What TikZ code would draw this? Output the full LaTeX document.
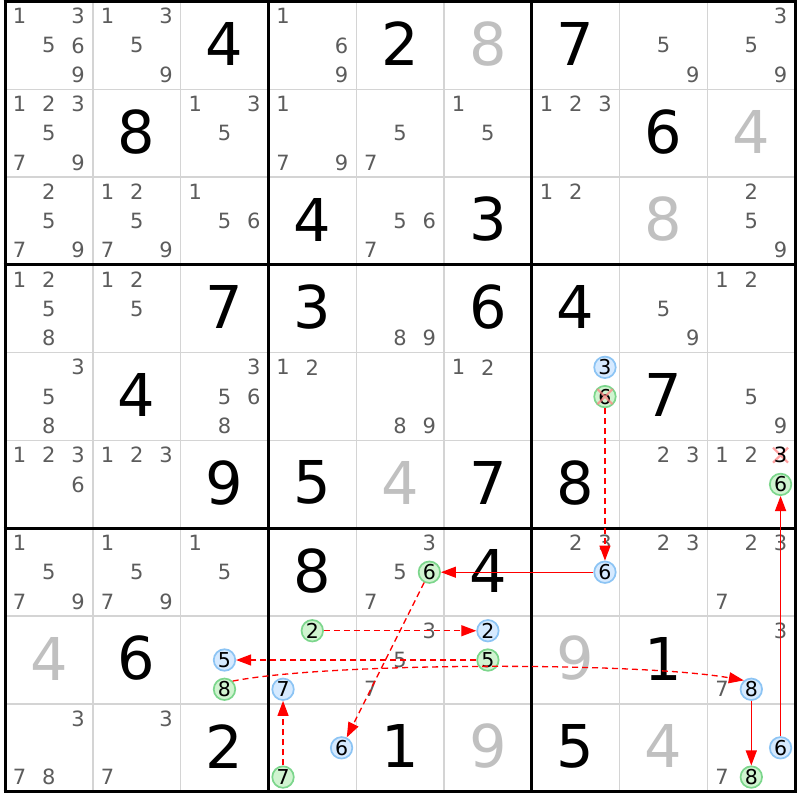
\documentclass[tikz,border=0pt]{standalone}
\usepackage{fontspec}
\setmainfont{DejaVu Sans}
\usetikzlibrary{arrows.meta}
\definecolor{candc}{RGB}{92,92,92}
\definecolor{lgray}{RGB}{192,192,192}
\definecolor{thinc}{RGB}{212,212,212}
\definecolor{bluefill}{RGB}{214,234,255}
\definecolor{bluebd}{RGB}{140,196,244}
\definecolor{greenfill}{RGB}{208,244,208}
\definecolor{greenbd}{RGB}{124,214,140}
\definecolor{xcol}{RGB}{255,130,130}
\newcommand\sdCands[3]{\foreach \d in {#3}{\node[cand] at ({5+(#2-1)*87.8+(mod(\d-1,3)+0.5)*29.2667},{1.5+(#1-1)*87.8+(floor((\d-1)/3)+0.5)*29.2667}) {\d};}}
\newcommand\sdCandK[3]{\node[cand,text=black] at ({5+(#2-1)*87.8+(mod(#3-1,3)+0.5)*29.2667},{1.5+(#1-1)*87.8+(floor((#3-1)/3)+0.5)*29.2667}) {#3};}
\newcommand\sdCirc[5]{\node[#1] (#2) at ({5+(#4-1)*87.8+(mod(#5-1,3)+0.5)*29.2667},{1.5+(#3-1)*87.8+(floor((#5-1)/3)+0.5)*29.2667}) {#5};}
\newcommand\sdX[3]{\draw[xm] ({5+(#2-1)*87.8+(mod(#3-1,3)+0.5)*29.2667},{1.5+(#1-1)*87.8+(floor((#3-1)/3)+0.5)*29.2667}) +(-7.5,-7.5) -- +(7.5,7.5) +(-7.5,7.5) -- +(7.5,-7.5);}
\newcommand\sdBig[4][black]{\node[bigd,text=#1] at ({5+(#3-0.5)*87.8},{1.5+(#2-0.5)*87.8-1.5}) {#4};}
\begin{document}
\begin{tikzpicture}[x=1pt,y=-1pt,
  cand/.style={inner sep=0pt,text=candc,font=\fontsize{21}{21}\selectfont},
  bigd/.style={inner sep=0pt,font=\fontsize{59}{60}\selectfont},
  bc/.style={circle,draw=bluebd,fill=bluefill,line width=1.7pt,minimum size=21.5pt,inner sep=0pt,text=black,font=\fontsize{20.5}{21}\selectfont},
  gc/.style={circle,draw=greenbd,fill=greenfill,line width=1.7pt,minimum size=21.5pt,inner sep=0pt,text=black,font=\fontsize{20.5}{21}\selectfont},
  xm/.style={draw=xcol,line width=2.2pt,opacity=0.75},
  arr/.style={draw=red,line width=1.3pt,-{Triangle[length=15pt,width=11pt]}},
  dsh/.style={dash pattern=on 6pt off 4pt}]
\useasboundingbox (0,0) rectangle (800,800);
\fill[white] (0,0) rectangle (800,800);
% thin grid lines
\foreach \i in {1,2,4,5,7,8}{
  \draw[thinc,line width=1.4pt] ({5+\i*87.8},1.5) -- ({5+\i*87.8},791.7);
  \draw[thinc,line width=1.4pt] (5,{1.5+\i*87.8}) -- (795.2,{1.5+\i*87.8});
}
\foreach \i in {0,3,6,9}{
  \draw[black,line width=3pt] ({5+\i*87.8},0) -- ({5+\i*87.8},793.2);
  \draw[black,line width=3pt] (3.5,{1.5+\i*87.8}) -- (796.7,{1.5+\i*87.8});
}
% row 1
\sdCands{1}{1}{1,3,5,6,9}
\sdCands{1}{2}{1,3,5,9}
\sdBig{1}{3}{4}
\sdCands{1}{4}{1,6,9}
\sdBig{1}{5}{2}
\sdBig[lgray]{1}{6}{8}
\sdBig{1}{7}{7}
\sdCands{1}{8}{5,9}
\sdCands{1}{9}{3,5,9}
% row 2
\sdCands{2}{1}{1,2,3,5,7,9}
\sdBig{2}{2}{8}
\sdCands{2}{3}{1,3,5}
\sdCands{2}{4}{1,7,9}
\sdCands{2}{5}{5,7}
\sdCands{2}{6}{1,5}
\sdCands{2}{7}{1,2,3}
\sdBig{2}{8}{6}
\sdBig[lgray]{2}{9}{4}
% row 3
\sdCands{3}{1}{2,5,7,9}
\sdCands{3}{2}{1,2,5,7,9}
\sdCands{3}{3}{1,5,6}
\sdBig{3}{4}{4}
\sdCands{3}{5}{5,6,7}
\sdBig{3}{6}{3}
\sdCands{3}{7}{1,2}
\sdBig[lgray]{3}{8}{8}
\sdCands{3}{9}{2,5,9}
% row 4
\sdCands{4}{1}{1,2,5,8}
\sdCands{4}{2}{1,2,5}
\sdBig{4}{3}{7}
\sdBig{4}{4}{3}
\sdCands{4}{5}{8,9}
\sdBig{4}{6}{6}
\sdBig{4}{7}{4}
\sdCands{4}{8}{5,9}
\sdCands{4}{9}{1,2}
% row 5
\sdCands{5}{1}{3,5,8}
\sdBig{5}{2}{4}
\sdCands{5}{3}{3,5,6,8}
\sdCands{5}{4}{1,2}
\sdCands{5}{5}{8,9}
\sdCands{5}{6}{1,2}
\sdCirc{bc}{b3a}{5}{7}{3}
\sdCirc{gc}{g6a}{5}{7}{6}
\sdX{5}{7}{6}
\sdBig{5}{8}{7}
\sdCands{5}{9}{5,9}
% row 6
\sdCands{6}{1}{1,2,3,6}
\sdCands{6}{2}{1,2,3}
\sdBig{6}{3}{9}
\sdBig{6}{4}{5}
\sdBig[lgray]{6}{5}{4}
\sdBig{6}{6}{7}
\sdBig{6}{7}{8}
\sdCands{6}{8}{2,3}
\sdCands{6}{9}{1,2}
\sdX{6}{9}{3}
\sdCandK{6}{9}{3}
\sdCirc{gc}{g6b}{6}{9}{6}
% row 7
\sdCands{7}{1}{1,5,7,9}
\sdCands{7}{2}{1,5,7,9}
\sdCands{7}{3}{1,5}
\sdBig{7}{4}{8}
\sdCands{7}{5}{3,5,7}
\sdCirc{gc}{g6c}{7}{5}{6}
\sdBig{7}{6}{4}
\sdCands{7}{7}{2,3}
\sdCirc{bc}{b6c}{7}{7}{6}
\sdCands{7}{8}{2,3}
\sdCands{7}{9}{2,3,7}
% row 8
\sdBig[lgray]{8}{1}{4}
\sdBig{8}{2}{6}
\sdCirc{bc}{b5}{8}{3}{5}
\sdCirc{gc}{g8}{8}{3}{8}
\sdCirc{gc}{g2}{8}{4}{2}
\sdCirc{bc}{b7}{8}{4}{7}
\sdCands{8}{5}{3,5,7}
\sdCirc{bc}{b2}{8}{6}{2}
\sdCirc{gc}{g5}{8}{6}{5}
\sdBig[lgray]{8}{7}{9}
\sdBig{8}{8}{1}
\sdCands{8}{9}{3,7}
\sdCirc{bc}{b8}{8}{9}{8}
% row 9
\sdCands{9}{1}{3,7,8}
\sdCands{9}{2}{3,7}
\sdBig{9}{3}{2}
\sdCirc{bc}{b6d}{9}{4}{6}
\sdCirc{gc}{g7}{9}{4}{7}
\sdBig{9}{5}{1}
\sdBig[lgray]{9}{6}{9}
\sdBig{9}{7}{5}
\sdBig[lgray]{9}{8}{4}
\sdCirc{bc}{b6e}{9}{9}{6}
\sdCands{9}{9}{7}
\sdCirc{gc}{g8b}{9}{9}{8}
% chain
\draw[arr,dsh] (g6a) -- (b6c);
\draw[arr] (b6c) -- (g6c);
\draw[arr,dsh] (g6c) -- (b6d);
\draw[arr,dsh] (g2) -- (b2);
\draw[arr,dsh] (g5) -- (b5);
\draw[arr,dsh] (g8.45) .. controls (330,662) and (640,662) .. (b8.130);
\draw[arr,dsh] (g7) -- (b7);
\draw[arr] (b8) -- (g8b);
\draw[arr] (b6e) -- (g6b);
\end{tikzpicture}
\end{document}
